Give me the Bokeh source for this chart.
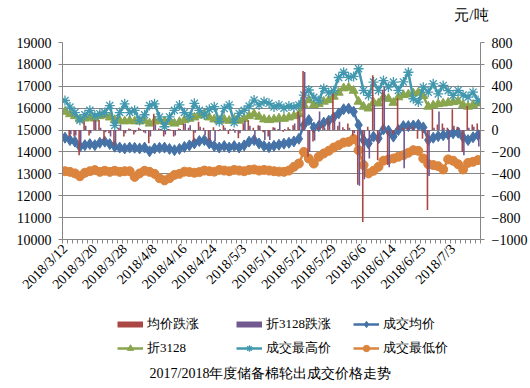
import numpy as np
from bokeh.plotting import figure
from bokeh.layouts import column
from bokeh.models import Range1d, LinearAxis, FixedTicker, Legend, LegendItem, Title, Label
from bokeh.embed import file_html
from bokeh.resources import INLINE

# ---------------- data ----------------
x_labels = ["2018/3/12", "2018/3/20", "2018/3/28", "2018/4/8", "2018/4/16", "2018/4/24",
            "2018/5/3", "2018/5/11", "2018/5/21", "2018/5/29", "2018/6/6", "2018/6/14",
            "2018/6/25", "2018/7/3"]
label_step = 6

# 均价跌涨 (right axis)
avg_change = [0, -60, -60, -230, 75, -50, 90, 90, -90, -30,
              -140, 20, -60, 15, -40, 20, -20, -120, 150, 15,
              -60, 10, -60, 15, 60, 20, -105, 75, 20, -90,
              25, -10, 45, -35, 10, -75, 60, 90, 20, 45,
              -20, -60, 25, 10, -15, 25, 45, 170, 540, -245,
              -105, 30, 45, 105, 335, 40, 25, 60, -50, -500,
              -840, 30, 500, -275, 365, -320, -40, 290, 20, 20,
              30, -80, -80, -730, 190, 50, 60, 20, 190, 30,
              -200, 220, 50, 60]
# 折3128跌涨 (right axis)
z3128_change = [0, -40, -50, -150, 40, -30, 90, 20, -20, -60,
                -120, 50, -30, 10, -20, 10, -30, -60, 50, 10,
                -40, 5, -50, 10, 60, 45, -25, 30, -45, -120,
                -100, 10, 20, 10, -25, -30, 85, 40, -105, 40,
                -90, -90, 20, 75, 10, 10, 60, 135, 530, -200,
                -95, 170, 20, 80, 150, 75, 10, 20, -30, -510,
                -450, -260, 230, -110, 390, -340, -30, 40, -350, 40,
                10, 10, 10, -420, 20, 170, 20, -200, 40, 20,
                -230, 20, 30, -150]
# 成交均价
avg_price = [14650, 14540, 14470, 14240, 14310, 14360, 14310, 14420, 14470, 14360,
             14240, 14200, 14160, 14200, 14190, 14160, 14200, 14030, 14160, 14190,
             14200, 14140, 14080, 14140, 14230, 14300, 14390, 14500, 14540, 14390,
             14270, 14200, 14270, 14200, 14270, 14200, 14300, 14470, 14540, 14390,
             14270, 14220, 14280, 14330, 14380, 14420, 14480, 14600, 15230, 15460,
             15120, 15180, 15340, 15430, 15580, 15760, 15950, 15980, 15840, 15230,
             14540, 14390, 14700, 14620, 15030, 14970, 14700, 15000, 15180, 15180,
             15210, 15240, 15120, 14540, 14650, 14720, 14760, 14800, 14850, 14880,
             14670, 14540, 14670, 14770]
# 折3128
z3128_price = [15840, 15730, 15640, 15490, 15530, 15580, 15530, 15640, 15690, 15580,
               15460, 15430, 15400, 15430, 15400, 15400, 15430, 15300, 15400, 15410,
               15400, 15370, 15300, 15370, 15460, 15520, 15580, 15670, 15730, 15580,
               15490, 15430, 15490, 15430, 15490, 15430, 15520, 15640, 15730, 15610,
               15490, 15460, 15490, 15530, 15520, 15580, 15640, 15730, 16150, 16370,
               16150, 16190, 16300, 16370, 16530, 16710, 16910, 16940, 16800, 16300,
               16070, 15990, 16260, 16220, 16500, 16430, 16250, 16500, 16600, 16630,
               16680, 16710, 16560, 16070, 16130, 16190, 16220, 16250, 16280, 16310,
               16150, 16070, 16150, 16220]
# 成交最高价
high_price = [16350, 16050, 15800, 15450, 15700, 15900, 15650, 15750, 15800, 16120,
              15210, 15800, 16200, 15800, 15900, 15440, 15700, 16120, 16200, 15600,
              15150, 15600, 15900, 16150, 15800, 15610, 16220, 15900, 15690, 15950,
              16070, 15380, 15990, 16150, 15350, 15760, 15900, 16100, 16370, 16150,
              16300, 16220, 16050, 16150, 16000, 16100, 16050, 16150, 16600, 16830,
              16500, 16350, 16900, 16700, 16800, 17400, 17640, 17410, 17450, 17800,
              16810, 16580, 17190, 16810, 17260, 16960, 17190, 16810, 17200, 17640,
              16430, 16280, 16960, 16730, 17110, 16650, 17040, 16800, 16580, 16810,
              16600, 16500, 16730, 16350]
# 成交最低价
low_price = [13120, 13090, 13020, 12890, 13050, 13120, 13170, 13090, 13140, 13090,
             13140, 13090, 13120, 13120, 12860, 13020, 13140, 13090, 13000, 12800,
             12700, 12800, 12950, 13000, 13100, 13080, 13050, 13080, 13150, 13120,
             13100, 13180, 13150, 13120, 13180, 13150, 13120, 13180, 13200, 13150,
             13180, 13150, 13120, 13100, 13090, 13150, 13320, 13470, 14000, 13700,
             13470, 13780, 13930, 14050, 14200, 14310, 14430, 14460, 14590, 14080,
             13400, 13020, 13140, 13320, 13600, 13660, 13700, 13780, 13850, 13960,
             14080, 14050, 13700, 13440, 13400, 13350, 13200, 13660, 13600, 13440,
             13200, 13500, 13550, 13630]

series_names = ["均价跌涨", "折3128跌涨", "成交均价", "折3128", "成交最高价", "成交最低价"]
chart_title = "2017/2018年度储备棉轮出成交价格走势"
unit_text = "元/吨"

# ---------------- style ----------------
RED = "#AA4643"
PURPLE = "#71588F"
BLUE = "#4572A7"
GREEN = "#89A54E"
AQUA = "#4198AF"
ORANGE = "#DB843D"
GRID = "#868686"
FONT = "Liberation Serif"

n = len(avg_price)
xs = np.arange(n) + 0.5

p = figure(width=530, height=300, output_backend="svg", toolbar_location=None,
           x_range=Range1d(0, n), y_range=Range1d(10000, 19000),
           min_border_left=62, min_border_right=48, min_border_top=42,
           min_border_bottom=61)
p.outline_line_color = None
p.background_fill_color = "white"
p.border_fill_color = "white"
p.extra_y_ranges = {"chg": Range1d(-1000, 800)}

p.xgrid.visible = False
p.ygrid.grid_line_color = GRID
p.ygrid.grid_line_width = 1

left = p.yaxis[0]
left.ticker = FixedTicker(ticks=list(range(10000, 19001, 1000)))
right = LinearAxis(y_range_name="chg", ticker=FixedTicker(ticks=list(range(-1000, 801, 200))))
p.add_layout(right, "right")

for ax in (left, right):
    ax.axis_line_color = GRID
    ax.major_tick_line_color = GRID
    ax.major_tick_out = 4
    ax.major_tick_in = 0
    ax.minor_tick_line_color = None
    ax.major_label_text_font = FONT
    ax.major_label_text_font_size = "14px"
    ax.major_label_text_color = "black"
    ax.major_label_standoff = 7

xa = p.xaxis[0]
label_pos = [i * label_step + 0.5 for i in range(len(x_labels))]
xa.ticker = FixedTicker(ticks=label_pos, minor_ticks=list(range(n + 1)))
xa.major_label_overrides = {pos: lab for pos, lab in zip(label_pos, x_labels)}
xa.major_label_orientation = np.pi / 4
xa.axis_line_color = GRID
xa.major_tick_line_color = None
xa.major_tick_out = 4
xa.major_tick_in = 0
xa.minor_tick_line_color = GRID
xa.minor_tick_out = 4
xa.minor_tick_in = 0
xa.major_label_standoff = 3
xa.major_label_text_font = FONT
xa.major_label_text_font_size = "14px"
xa.major_label_text_color = "black"

# ---------------- lines ----------------
p.line(xs, avg_price, color=BLUE, line_width=2.5)
p.scatter(xs, avg_price, marker="diamond", size=11, color=BLUE)
p.line(xs, z3128_price, color=GREEN, line_width=2.5)
p.scatter(xs, z3128_price, marker="triangle", size=9, color=GREEN)
p.line(xs, high_price, color=AQUA, line_width=2.5)
p.scatter(xs, high_price, marker="asterisk", size=10, line_color=AQUA, line_width=1.3)
p.line(xs, low_price, color=ORANGE, line_width=2.5)
p.scatter(xs, low_price, marker="circle", size=9, color=ORANGE)

# ---------------- bars (right axis) ----------------
p.vbar(x=xs - 0.16, top=avg_change, bottom=0, width=0.32, y_range_name="chg",
       fill_color=RED, line_color=None)
p.vbar(x=xs + 0.16, top=z3128_change, bottom=0, width=0.32, y_range_name="chg",
       fill_color=PURPLE, line_color=None)

# unit text above the right axis (a blank spacer title keeps it near the top)
p.add_layout(Title(text=" ", standoff=0, text_font_size="14px"), "above")
p.add_layout(Title(text=unit_text, align="right", offset=-8, standoff=4,
                   text_font=FONT, text_font_size="15px", text_font_style="normal",
                   text_color="black"), "above")

# ---------------- legend + title strip ----------------
q = figure(width=530, height=88, output_backend="svg", toolbar_location=None,
           x_range=Range1d(62, 482), y_range=Range1d(0, 88),
           x_axis_type=None, y_axis_type=None,
           min_border_left=62, min_border_right=48, min_border_top=0, min_border_bottom=0)
q.outline_line_color = None
q.xgrid.visible = False
q.ygrid.visible = False
q.background_fill_color = "white"
q.border_fill_color = "white"

# legend swatch renderers (their points lie outside the visible range)
hx, hy = [0, 1], [-50, -50]
sw_red = q.line(x=hx, y=hy, color=RED, line_width=6)
sw_pur = q.line(x=hx, y=hy, color=PURPLE, line_width=6)
sw_avg = [q.line(x=hx, y=hy, color=BLUE, line_width=2.5),
          q.scatter(x=hx, y=hy, marker="diamond", color=BLUE)]
sw_z = [q.line(x=hx, y=hy, color=GREEN, line_width=2.5),
        q.scatter(x=hx, y=hy, marker="triangle", color=GREEN)]
sw_hi = [q.line(x=hx, y=hy, color=AQUA, line_width=2.5),
         q.scatter(x=hx, y=hy, marker="asterisk", line_color=AQUA, line_width=1.3)]
sw_lo = [q.line(x=hx, y=hy, color=ORANGE, line_width=2.5),
         q.scatter(x=hx, y=hy, marker="circle", color=ORANGE)]

legend_cols = [
    ([LegendItem(label=series_names[0], renderers=[sw_red]),
      LegendItem(label=series_names[3], renderers=sw_z)], 55),
    ([LegendItem(label=series_names[1], renderers=[sw_pur]),
      LegendItem(label=series_names[4], renderers=sw_hi)], 174),
    ([LegendItem(label=series_names[2], renderers=sw_avg),
      LegendItem(label=series_names[5], renderers=sw_lo)], 291),
]
for items, xloc in legend_cols:
    lg = Legend(items=items, location=(xloc, 31), orientation="vertical",
                glyph_width=26, glyph_height=16, label_height=16, label_standoff=4,
                spacing=6, padding=0, margin=0, border_line_color=None,
                background_fill_alpha=0, label_text_font=FONT,
                label_text_font_size="13px", label_text_color="black")
    q.add_layout(lg, "center")

q.add_layout(Label(x=271, y=15, text=chart_title, text_align="center",
                   text_baseline="middle", text_font=FONT, text_font_size="14px",
                   text_color="black"))

open("out.html", "w").write(file_html(column(p, q, spacing=0), INLINE))
